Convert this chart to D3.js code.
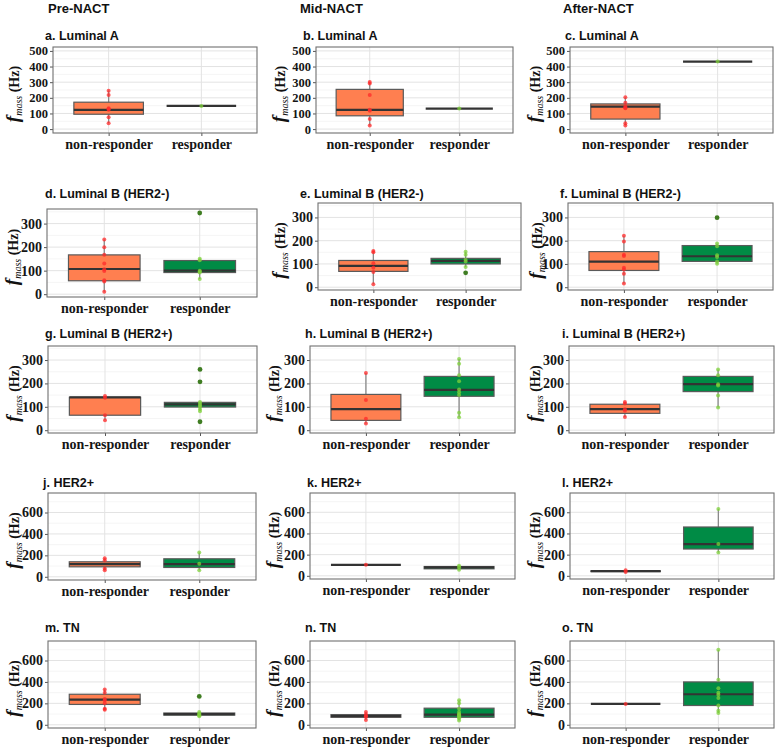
<!DOCTYPE html>
<html>
<head>
<meta charset="utf-8">
<script src="https://cdn.jsdelivr.net/npm/d3@7"></script>
<style>
  body { margin: 0; background: #fff; }
</style>
</head>
<body>
<div id="app"></div>
<script>
let columnHeaders = ['Pre-NACT', 'Mid-NACT', 'After-NACT'];
let subtypes = ['Luminal A', 'Luminal B (HER2-)', 'Luminal B (HER2+)', 'HER2+', 'TN'];
let panelLetters = ['a', 'b', 'c', 'd', 'e', 'f', 'g', 'h', 'i', 'j', 'k', 'l', 'm', 'n', 'o'];
let groups = ['non-responder', 'responder'];
let rowTicks = [[0, 100, 200, 300, 400, 500], [0, 100, 200, 300], [0, 100, 200, 300], [0, 200, 400, 600], [0, 200, 400, 600]];
let rowDomains = [[-25, 525], [-12, 362], [-12, 360], [-30, 782], [-30, 782]];

// box stats: [lower whisker, q1, median, q3, upper whisker], panels a..o
let boxNonResponder = [
  [38, 95, 123, 172, 246], [23, 85, 123, 254, 301], [23, 64, 144, 161, 203],
  [10, 57, 107, 167, 232], [13, 68, 92, 115, 156], [16, 72, 110, 153, 221],
  [43, 64, 140, 141, 146], [29, 42, 90, 153, 245], [56, 72, 90, 111, 121],
  [62, 93, 118, 140, 174], [104, 104, 104, 104, 104], [35, 40, 44, 47, 53],
  [140, 190, 235, 285, 330], [45, 70, 80, 95, 120], [195, 195, 195, 195, 195]
];
let boxResponder = [
  [148, 148, 148, 148, 148], [131, 131, 131, 131, 131], [432, 432, 432, 432, 432],
  [64, 92, 100, 143, 151], [87, 100, 113, 124, 152], [101, 111, 133, 179, 188],
  [81, 99, 110, 119, 121], [55, 145, 172, 230, 304], [97, 165, 197, 230, 259],
  [62, 87, 118, 168, 227], [57, 66, 79, 88, 94], [221, 253, 300, 461, 632],
  [80, 90, 100, 110, 120], [40, 70, 95, 155, 230], [110, 180, 285, 400, 700]
];
let pointsNonResponder = [
  [246, 218, 133, 128, 123, 76, 38], [301, 292, 218, 123, 117, 64, 23], [203, 169, 144, 137, 133, 38, 23],
  [232, 199, 168, 130, 106, 99, 59, 54, 10], [156, 150, 103, 84, 65, 13], [221, 196, 139, 134, 84, 76, 58, 16],
  [146, 139, 64, 43], [245, 129, 49, 29], [121, 114, 90, 83, 56],
  [174, 155, 78, 62], [104], [53, 35],
  [330, 300, 240, 230, 200, 150, 140], [120, 95, 80, 75, 45], [195]
];
let pointsResponder = [
  [148], [131], [432],
  [151, 144, 100, 96, 92, 64], [152, 140, 118, 111, 87], [188, 176, 137, 130, 110, 101],
  [121, 114, 107, 100, 90, 81], [304, 284, 235, 209, 174, 162, 151, 75, 55], [259, 235, 196, 191, 148, 97],
  [227, 121, 62], [94, 82, 57], [632, 300, 221],
  [120, 105, 95, 90, 80], [230, 200, 150, 120, 100, 95, 90, 80, 70, 60, 40], [700, 420, 340, 300, 280, 250, 180, 130, 110]
];
let outliersResponder = [
  [], [], [],
  [345], [62], [299],
  [260, 207, 36], [], [],
  [], [], [],
  [265], [], []
];

// panel frames in the composite figure (they were pasted from separate plots)
let frames = [
  {l: 53, t: 47, r: 257, b: 133, tx: 45, ty: 40, lx: 14},
  {l: 316, t: 47, r: 513, b: 133, tx: 303, ty: 40, lx: 280},
  {l: 570, t: 47, r: 773, b: 133, tx: 565, ty: 40, lx: 535},
  {l: 47, t: 209, r: 257, b: 297, tx: 45, ty: 198, lx: 13},
  {l: 318, t: 203, r: 521, b: 290, tx: 300, ty: 198, lx: 280},
  {l: 568, t: 203, r: 773, b: 290, tx: 560, ty: 198, lx: 537},
  {l: 48, t: 346, r: 257, b: 433, tx: 45, ty: 338, lx: 14},
  {l: 310, t: 346, r: 515, b: 433, tx: 305, ty: 338, lx: 274},
  {l: 569, t: 346, r: 774, b: 433, tx: 562, ty: 338, lx: 535},
  {l: 48, t: 493, r: 256, b: 580, tx: 43, ty: 487, lx: 14},
  {l: 310, t: 493, r: 515, b: 579, tx: 307, ty: 487, lx: 274},
  {l: 570, t: 493, r: 774, b: 579, tx: 562, ty: 487, lx: 535},
  {l: 48, t: 641, r: 256, b: 728, tx: 45, ty: 632, lx: 14},
  {l: 310, t: 641, r: 515, b: 728, tx: 305, ty: 632, lx: 274},
  {l: 570, t: 641, r: 774, b: 728, tx: 562, ty: 632, lx: 535}
];
let headerX = [48, 300, 563];

let width = 778;
let height = 749;
let fillColors = ['#ff7f50', '#008b45'];
let pointColors = ['#ff2a2a', '#7fd13b'];
let sans = "'Liberation Sans', Arial, sans-serif";
let serif = "'Liberation Serif', 'Times New Roman', serif";

let svg = d3.select('#app').append('svg')
  .attr('width', width)
  .attr('height', height)
  .style('background', '#fff');

svg.selectAll('text.header')
  .data(columnHeaders)
  .enter()
  .append('text')
    .attr('x', (d, i) => headerX[i])
    .attr('y', 13)
    .style('font-family', sans)
    .style('font-weight', 'bold')
    .style('font-size', '13px')
    .style('fill', '#111')
    .text(d => d);

frames.forEach(function(f, p) {
  let row = Math.floor(p / 3);
  let ticks = rowTicks[row];
  let g = svg.append('g');

  let x = d3.scalePoint()
    .domain(groups)
    .range([f.l, f.r])
    .padding(0.6);

  let y = d3.scaleLinear()
    .domain(rowDomains[row])
    .range([f.b, f.t]);

  let step = ticks[1] - ticks[0];
  let minor = ticks.map(t => t + step / 2)
    .filter(v => v < rowDomains[row][1]);

  // grid
  g.selectAll('line.minor').data(minor).enter().append('line')
    .attr('x1', f.l).attr('x2', f.r)
    .attr('y1', d => y(d)).attr('y2', d => y(d))
    .style('stroke', '#f2f2f2').style('stroke-width', 0.8);
  g.selectAll('line.major').data(ticks).enter().append('line')
    .attr('x1', f.l).attr('x2', f.r)
    .attr('y1', d => y(d)).attr('y2', d => y(d))
    .style('stroke', '#e3e3e3').style('stroke-width', 1);
  g.selectAll('line.vmajor').data(groups).enter().append('line')
    .attr('x1', d => x(d)).attr('x2', d => x(d))
    .attr('y1', f.t).attr('y2', f.b)
    .style('stroke', '#e3e3e3').style('stroke-width', 1);

  // boxplots
  let boxes = [boxNonResponder[p], boxResponder[p]];
  let bw = x.step() * 0.75;
  boxes.forEach(function(s, k) {
    let cx = x(groups[k]);
    g.append('line')
      .attr('x1', cx).attr('x2', cx)
      .attr('y1', y(s[4])).attr('y2', y(s[3]))
      .style('stroke', '#8a8a8a').style('stroke-width', 1.3);
    g.append('line')
      .attr('x1', cx).attr('x2', cx)
      .attr('y1', y(s[1])).attr('y2', y(s[0]))
      .style('stroke', '#8a8a8a').style('stroke-width', 1.3);
    g.append('rect')
      .attr('x', cx - bw / 2)
      .attr('y', y(s[3]))
      .attr('width', bw)
      .attr('height', y(s[1]) - y(s[3]))
      .style('fill', fillColors[k])
      .style('stroke', '#5a5a5a')
      .style('stroke-width', 1.2);
    g.append('line')
      .attr('x1', cx - bw / 2).attr('x2', cx + bw / 2)
      .attr('y1', y(s[2])).attr('y2', y(s[2]))
      .style('stroke', '#333').style('stroke-width', 2.2);
  });

  // points
  let pts = [pointsNonResponder[p], pointsResponder[p]];
  pts.forEach(function(list, k) {
    g.selectAll('circle.p' + k).data(list).enter().append('circle')
      .attr('cx', x(groups[k]))
      .attr('cy', d => y(d))
      .attr('r', 2)
      .style('fill', pointColors[k])
      .style('opacity', 0.75);
  });
  g.selectAll('circle.out').data(outliersResponder[p]).enter().append('circle')
    .attr('cx', x(groups[1]))
    .attr('cy', d => y(d))
    .attr('r', 2.4)
    .style('fill', '#3f7d22');

  // axes
  let ya = g.append('g')
    .attr('transform', `translate(${f.l},0)`)
    .call(d3.axisLeft(y).tickValues(ticks).tickSize(3).tickPadding(2));
  let xa = g.append('g')
    .attr('transform', `translate(0,${f.b})`)
    .call(d3.axisBottom(x).tickSize(3).tickPadding(3));
  [ya, xa].forEach(a => {
    a.select('.domain').remove();
    a.selectAll('line').style('stroke', '#555');
    a.selectAll('text')
      .style('font-family', serif)
      .style('font-weight', 'bold')
      .style('fill', '#151515');
  });
  ya.selectAll('text').style('font-size', row === 0 ? '12.5px' : '14px');
  xa.selectAll('text').style('font-size', '14px');

  // panel border
  g.append('rect')
    .attr('x', f.l).attr('y', f.t)
    .attr('width', f.r - f.l).attr('height', f.b - f.t)
    .style('fill', 'none')
    .style('stroke', '#707070')
    .style('stroke-width', 1.1);

  // title
  g.append('text')
    .attr('x', f.tx)
    .attr('y', f.ty)
    .style('font-family', sans)
    .style('font-weight', 'bold')
    .style('font-size', '12.5px')
    .style('fill', '#111')
    .text(panelLetters[p] + '. ' + subtypes[row]);

  // y axis title
  let yl = g.append('text')
    .attr('transform', `translate(${f.lx + 5},${(f.t + f.b) / 2 + 4}) rotate(-90)`)
    .attr('text-anchor', 'middle')
    .style('font-family', serif)
    .style('fill', '#111');
  yl.append('tspan').text('f')
    .style('font-style', 'italic').style('font-weight', 'bold').style('font-size', '19px');
  yl.append('tspan').text('mass')
    .attr('dy', 3)
    .style('font-style', 'italic').style('font-size', '10px');
  yl.append('tspan').text(' (Hz)')
    .attr('dy', -3)
    .style('font-weight', 'bold').style('font-size', '14px');
});
</script>
</body>
</html>
